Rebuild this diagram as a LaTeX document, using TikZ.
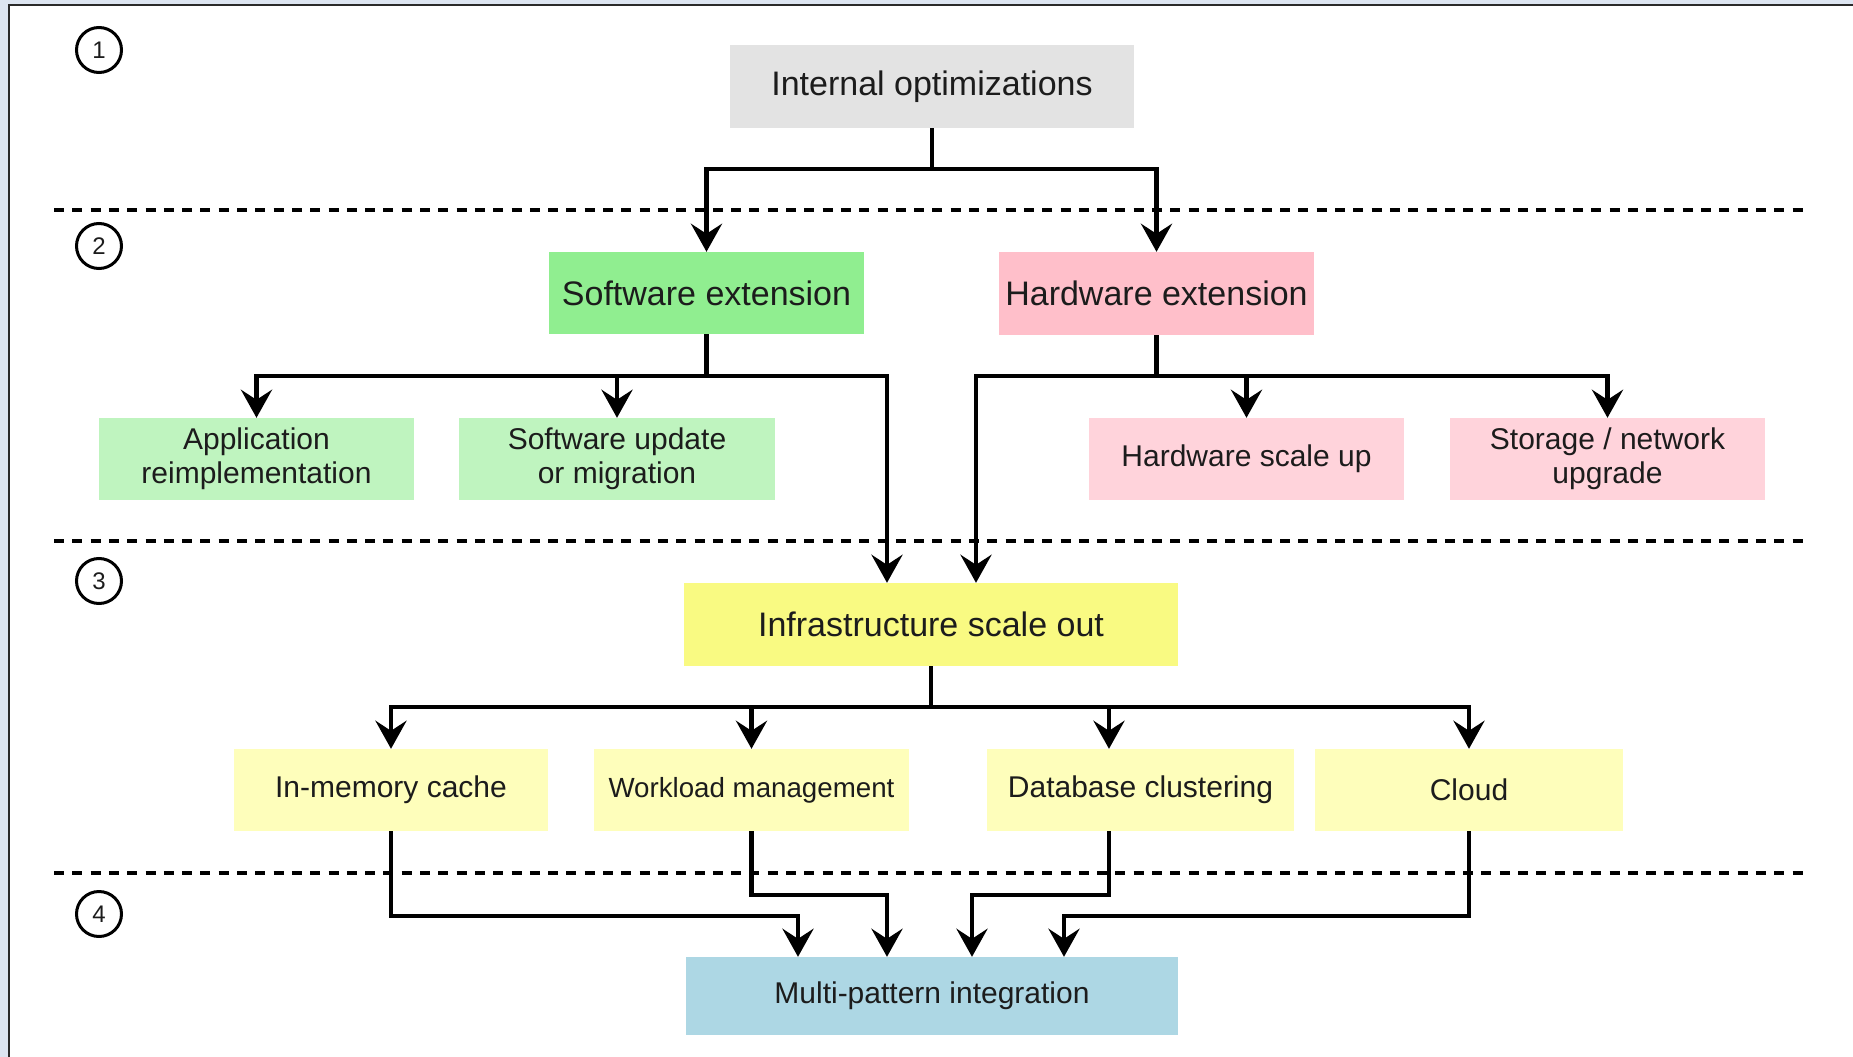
\documentclass[tikz,border=0pt]{standalone}
\usepackage{fontspec}
\setmainfont{Liberation Sans}
\usetikzlibrary{arrows.meta,calc}

\definecolor{frameblue}{HTML}{DDE5F1}
\definecolor{framedark}{HTML}{2A2A2A}
\definecolor{textdark}{HTML}{1C1C1C}
\definecolor{ioGray}{HTML}{E3E3E3}
\definecolor{swGreen}{HTML}{90EE90}
\definecolor{swLight}{HTML}{BFF4BF}
\definecolor{hwPink}{HTML}{FFBFCA}
\definecolor{hwLight}{HTML}{FFD3DB}
\definecolor{infYellow}{HTML}{F9FA82}
\definecolor{infLight}{HTML}{FEFEBB}
\definecolor{mpBlue}{HTML}{ADD7E4}

\begin{document}
\begin{tikzpicture}[x=1pt,y=-1pt,
  box/.style={rectangle, inner sep=0pt, text=textdark, align=center,
              minimum height=83pt},
  big/.style={font=\fontsize{34}{40}\selectfont},
  small/.style={font=\fontsize{30}{34}\selectfont},
  conn/.style={line width=4.5pt, draw=black,
               -{Stealth[length=28pt,width=31pt,inset=10pt]}},
  tierline/.style={line width=4pt, draw=black, dash pattern=on 10pt off 8.3pt},
  tiermark/.style={circle, draw=black, line width=3pt, minimum size=45pt,
                   inner sep=0pt, text=textdark, font=\fontsize{24}{24}\selectfont}
]
\useasboundingbox (0,0) rectangle (1853,1057);

% frame
\fill[frameblue] (0,0) rectangle (1853,1057);
\fill[white] (9,5) rectangle (1853,1057);
\draw[line width=2pt, framedark] (9,1057) -- (9,5) -- (1853,5);

% tier separators
\draw[tierline] (54,210) -- (1810,210);
\draw[tierline] (54,541) -- (1810,541);
\draw[tierline] (54,873) -- (1810,873);

% tier numbers
\node[tiermark] (t1) at (99,50) {1};
\node[tiermark] (t2) at (99,246) {2};
\node[tiermark] (t3) at (99,581) {3};
\node[tiermark] (t4) at (99,914) {4};

% tier 1
\node[box, big, fill=ioGray, minimum width=404pt] (io) at (932,86.5) {Internal optimizations};

% tier 2
\node[box, big, fill=swGreen, minimum width=315pt, minimum height=82pt] (swe) at (706.5,293) {Software extension};
\node[box, big, fill=hwPink, minimum width=315pt] (hwe) at (1156.5,293.5) {Hardware extension};

\node[box, small, fill=swLight, minimum width=315pt, minimum height=82pt] (app) at (256.5,459) {Application\\reimplementation};
\node[box, small, fill=swLight, minimum width=316pt, minimum height=82pt] (swu) at (617,459) {Software update\\or migration};
\node[box, small, fill=hwLight, minimum width=315pt, minimum height=82pt] (hwu) at (1246.5,459) {Hardware scale up};
\node[box, small, fill=hwLight, minimum width=315pt, minimum height=82pt] (sto) at (1607.5,459) {Storage / network\\upgrade};

% tier 3
\node[box, big, fill=infYellow, minimum width=494pt] (inf) at (931,624.5) {Infrastructure scale out};

\node[box, small, fill=infLight, minimum width=314pt, minimum height=82pt] (imc) at (391,790) {In-memory cache};
\node[box, fill=infLight, minimum width=315pt, minimum height=82pt, font=\fontsize{27.7}{32}\selectfont] (wlm) at (751.5,790) {Workload management};
\node[box, small, fill=infLight, minimum width=307pt, minimum height=82pt] (dbc) at (1140.5,790) {Database clustering};
\node[box, small, fill=infLight, minimum width=308pt, minimum height=82pt] (cld) at (1469,790) {\raisebox{-2pt}{Cloud}};

% tier 4
\node[box, small, fill=mpBlue, minimum width=492pt, minimum height=78pt] (mpi) at (932,996) {Multi-pattern integration};

% bus levels
\coordinate (bus1) at (0,169);
\coordinate (bus2) at (0,376);
\coordinate (bus3) at (0,707);
\coordinate (busA) at (0,895);
\coordinate (busB) at (0,916);

% tier 1 -> tier 2
\draw[conn] (io.south) -- (io.south |- bus1) -| (swe.north);
\draw[conn] (io.south) -- (io.south |- bus1) -| (hwe.north);

% software branch
\draw[conn] (swe.south) -- (swe.south |- bus2) -| (app.north);
\draw[conn] (swe.south) -- (swe.south |- bus2) -| (swu.north);
\draw[conn] (swe.south) -- (swe.south |- bus2) -| ([xshift=-44pt]inf.north);

% hardware branch
\draw[conn] (hwe.south) -- (hwe.south |- bus2) -| ([xshift=45pt]inf.north);
\draw[conn] (hwe.south) -- (hwe.south |- bus2) -| (hwu.north);
\draw[conn] (hwe.south) -- (hwe.south |- bus2) -| (sto.north);

% scale-out branch
\draw[conn] (inf.south) -- (inf.south |- bus3) -| (imc.north);
\draw[conn] (inf.south) -- (inf.south |- bus3) -| (wlm.north);
\draw[conn] (inf.south) -- (inf.south |- bus3) -| ([xshift=-31.5pt]dbc.north);
\draw[conn] (inf.south) -- (inf.south |- bus3) -| (cld.north);

% into integration
\draw[conn] (imc.south) -- (imc.south |- busB) -| ([xshift=-134pt]mpi.north);
\draw[conn] (wlm.south) -- (wlm.south |- busA) -| ([xshift=-45pt]mpi.north);
\draw[conn] ([xshift=-31.5pt]dbc.south) -- ([xshift=-31.5pt]dbc.south |- busA) -| ([xshift=40pt]mpi.north);
\draw[conn] (cld.south) -- (cld.south |- busB) -| ([xshift=132pt]mpi.north);
\end{tikzpicture}
\end{document}
